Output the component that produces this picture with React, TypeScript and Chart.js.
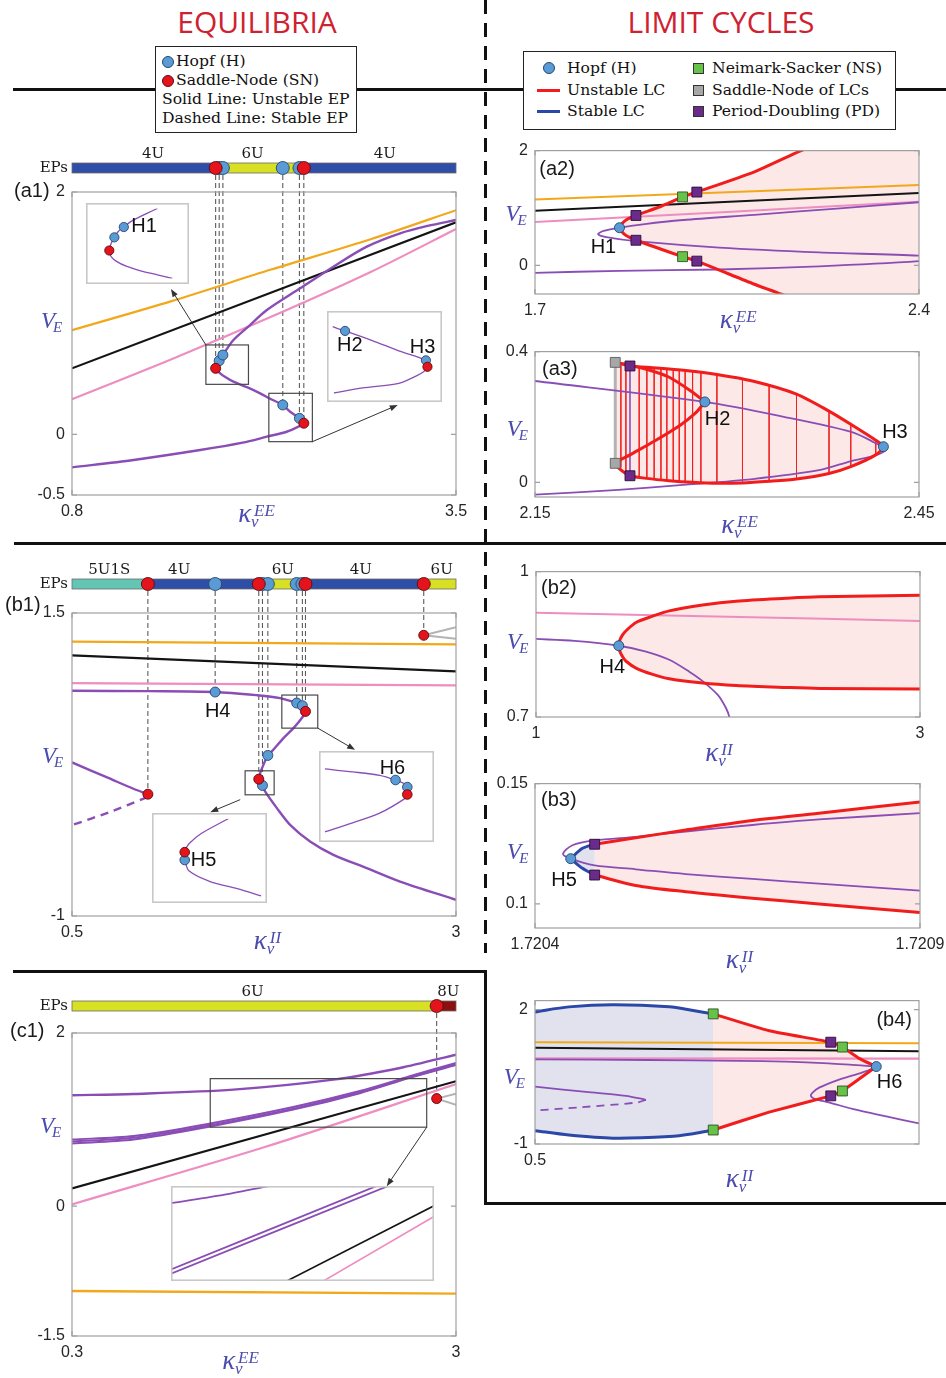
import { useEffect, useRef } from 'react';
import { Chart, registerables } from 'chart.js';

Chart.register(...registerables);

/* ---------------- colours ---------------- */
const ORANGE = '#f1a81a';
const BLACK = '#141414';
const PINK = '#ee8dc0';
const PURPLE = '#8a4db6';
const LC_RED = '#f11d1d';
const LC_BLUE = '#2b47a7';
const FILL_PINK = '#fbe8e7';
const FILL_BLUE = '#e2e2ef';
const HOPF_BLUE = '#5b9bd5';
const SN_RED = '#e5141c';
const NS_GREEN = '#67c24a';
const PD_PURPLE = '#6a2b8b';
const SNLC_GRAY = '#a7a7a7';
const BAR_BLUE = '#2f4ea7';
const BAR_YELLOW = '#d8e024';
const BAR_TEAL = '#63c6b5';
const BAR_DARKRED = '#8d1010';
const AXIS_BLUE = '#4b4cae';
const HEAD_RED = '#cf2230';
const FRAME = '#a0a0a0';
const TICK_TEXT = '#262626';
const BRANCH_GRAY = '#b3b3b3';

/* ---------------- (a1) equilibria, kappa_v^EE ---------------- */
const a1XTicks = [0.8, 3.5];
const a1XLabels = ['0.8', '3.5'];
const a1YTicks = [-0.5, 0, 2];
const a1YLabels = ['-0.5', '0', '2'];
const a1OrangeK = [0.8, 1.5, 2.2, 2.9, 3.5];
const a1OrangeV = [0.86, 1.1, 1.36, 1.61, 1.85];
const a1BlackK = [0.8, 3.5];
const a1BlackV = [0.545, 1.75];
const a1PinkK = [0.8, 1.5, 2.2, 2.9, 3.5];
const a1PinkV = [0.29, 0.62, 0.97, 1.34, 1.695];
const a1PurpleK = [0.8, 1.233, 1.701, 2.0, 2.17, 2.31, 2.392, 2.43, 2.399, 2.334, 2.282, 2.2, 2.123, 2.03, 1.935, 1.875, 1.842, 1.81, 1.835, 1.861, 1.935, 2.05, 2.17, 2.404, 2.638, 2.873, 3.107, 3.3, 3.5];
const a1PurpleV = [-0.272, -0.211, -0.129, -0.068, -0.019, 0.022, 0.064, 0.092, 0.133, 0.187, 0.243, 0.29, 0.339, 0.39, 0.435, 0.475, 0.504, 0.545, 0.608, 0.655, 0.779, 0.9, 1.026, 1.205, 1.384, 1.549, 1.659, 1.72, 1.769];
const a1HopfK = [1.835, 1.861, 2.282, 2.399];
const a1HopfV = [0.608, 0.655, 0.243, 0.133];
const a1SnK = [1.81, 2.43];
const a1SnV = [0.545, 0.092];
const a1BarEdges = [0.8, 1.81, 2.43, 3.5];
const a1BarLabelK = [1.37, 2.07, 3.0];
const a1BarLabels = ['4U', '6U', '4U'];
// magnified window around H1
const a1ZoomH1K = [1.9558, 1.9268, 1.8979, 1.8689, 1.8466, 1.8284, 1.8159, 1.8052, 1.7994, 1.8052, 1.8255, 1.8545, 1.8979, 1.9558, 2.0042];
const a1ZoomH1V = [0.738, 0.7191, 0.699, 0.677, 0.652, 0.631, 0.604, 0.575, 0.543, 0.515, 0.49, 0.47, 0.45, 0.43, 0.413];
const a1ZoomH1HopfK = [1.8159, 1.8466];
const a1ZoomH1HopfV = [0.604, 0.652];
const a1ZoomH1SnK = [1.7994];
const a1ZoomH1SnV = [0.543];
// magnified window around H2, H3
const a1ZoomH23K = [2.184, 2.221, 2.2992, 2.379, 2.4589, 2.4634, 2.4528, 2.4323, 2.379, 2.2726, 2.1883];
const a1ZoomH23V = [0.288, 0.267, 0.2202, 0.1674, 0.1203, 0.0882, 0.0649, 0.0443, 0.0059, -0.0174, -0.0425];
const a1ZoomH23HopfK = [2.221, 2.4589];
const a1ZoomH23HopfV = [0.267, 0.1203];
const a1ZoomH23SnK = [2.4634];
const a1ZoomH23SnV = [0.0882];

/* ---------------- (a2) limit cycles from H1 ---------------- */
const a2XTicks = [1.7, 2.4];
const a2XLabels = ['1.7', '2.4'];
const a2YTicks = [0, 2];
const a2YLabels = ['0', '2'];
const a2OrangeK = [1.7, 2.4];
const a2OrangeV = [1.148, 1.4];
const a2BlackK = [1.7, 2.4];
const a2BlackV = [0.953, 1.26];
const a2PinkK = [1.7, 2.05, 2.4];
const a2PinkV = [0.756, 0.93, 1.109];
const a2PurpleK = [1.7, 1.854, 2.036, 2.218, 2.4, 2.43, 2.4, 2.218, 2.036, 1.884, 1.83, 1.815, 1.825, 1.854, 1.9, 1.97, 2.1, 2.25, 2.4];
const a2PurpleV = [-0.13, -0.096, -0.073, -0.017, 0.073, 0.12, 0.168, 0.224, 0.308, 0.42, 0.49, 0.543, 0.6, 0.655, 0.72, 0.79, 0.88, 0.99, 1.1];
const a2RedUpK = [1.854, 1.858, 1.866, 1.884, 1.93, 1.969, 1.995, 2.1, 2.185, 2.22];
const a2RedUpV = [0.655, 0.72, 0.79, 0.869, 1.03, 1.193, 1.277, 1.63, 2.0, 2.13];
const a2RedLoK = [1.854, 1.858, 1.866, 1.884, 1.93, 1.969, 1.995, 2.1, 2.148, 2.18];
const a2RedLoV = [0.655, 0.59, 0.52, 0.437, 0.28, 0.151, 0.073, -0.33, -0.5, -0.61];
const a2ShadeK = [2.5, 2.5];
const a2ShadeV = [2.2, -0.7];
const a2HopfK = [1.854];
const a2HopfV = [0.655];
const a2NsK = [1.969, 1.969];
const a2NsV = [1.193, 0.151];
const a2PdK = [1.884, 1.884, 1.995, 1.995];
const a2PdV = [0.869, 0.437, 1.277, 0.073];

/* ---------------- (a3) limit cycles between H2 and H3 ---------------- */
const a3XTicks = [2.15, 2.45];
const a3XLabels = ['2.15', '2.45'];
const a3YTicks = [0, 0.4];
const a3YLabels = ['0', '0.4'];
const a3PurpleK = [2.15, 2.2827, 2.346, 2.397, 2.415, 2.424, 2.418, 2.4109, 2.397, 2.372, 2.32, 2.268, 2.2152, 2.15];
const a3PurpleV = [0.31, 0.246, 0.199, 0.154, 0.122, 0.1, 0.085, 0.077, 0.065, 0.037, 0.01, -0.007, -0.023, -0.038];
const a3LcK = [2.2827, 2.2723, 2.2541, 2.235, 2.22, 2.2127, 2.218, 2.2242, 2.245, 2.2679, 2.2921, 2.32, 2.3543, 2.3797, 2.3974, 2.4162, 2.4222, 2.4162, 2.3967, 2.3797, 2.3543, 2.3329, 2.3121, 2.2921, 2.2731, 2.2549, 2.2372, 2.2242, 2.218, 2.2127, 2.2242, 2.2424, 2.2632, 2.2757, 2.2827];
const a3LcV = [0.246, 0.278, 0.323, 0.348, 0.362, 0.367, 0.362, 0.356, 0.35, 0.342, 0.33, 0.31, 0.27, 0.218, 0.176, 0.129, 0.109, 0.084, 0.048, 0.027, 0.01, 0.003, -0.002, -0.003, 0.0, 0.005, 0.012, 0.02, 0.035, 0.058, 0.084, 0.124, 0.174, 0.213, 0.246];
const a3EnvK = [2.2127, 2.2242, 2.245, 2.2679, 2.2921, 2.32, 2.3543, 2.3797, 2.3974, 2.4162, 2.4222, 2.4162, 2.3967, 2.3797, 2.3543, 2.3329, 2.3121, 2.2921, 2.2731, 2.2549, 2.2372, 2.2242, 2.2127];
const a3EnvV = [0.367, 0.356, 0.35, 0.342, 0.33, 0.31, 0.27, 0.218, 0.176, 0.129, 0.109, 0.084, 0.048, 0.027, 0.01, 0.003, -0.002, -0.003, 0.0, 0.005, 0.012, 0.02, 0.058];
const a3HatchK = [2.2171, 2.221, 2.2314, 2.2374, 2.2431, 2.2484, 2.253, 2.258, 2.2627, 2.2673, 2.2731, 2.2796, 2.2921, 2.3121, 2.3329, 2.3543, 2.3797, 2.3967, 2.4162];
const a3HatchTop = [0.363, 0.359, 0.353, 0.351, 0.349, 0.347, 0.346, 0.345, 0.343, 0.342, 0.34, 0.337, 0.33, 0.316, 0.296, 0.27, 0.218, 0.178, 0.129];
const a3HatchBottom = [0.045, 0.03, 0.017, 0.013, 0.01, 0.008, 0.006, 0.005, 0.003, 0.002, 0.0, -0.001, -0.003, -0.002, 0.003, 0.01, 0.027, 0.048, 0.084];
const a3HopfK = [2.2827, 2.4222];
const a3HopfV = [0.246, 0.109];
const a3SnlcK = [2.2127, 2.2127];
const a3SnlcV = [0.367, 0.058];
const a3PdK = [2.2242, 2.2242];
const a3PdV = [0.356, 0.02];

/* ---------------- (b1) equilibria, kappa_v^II ---------------- */
const b1XTicks = [0.5, 3];
const b1XLabels = ['0.5', '3'];
const b1YTicks = [-1, 1.5];
const b1YLabels = ['-1', '1.5'];
const b1OrangeK = [0.5, 3];
const b1OrangeV = [1.263, 1.241];
const b1BlackK = [0.5, 3];
const b1BlackV = [1.15, 1.018];
const b1PinkK = [0.5, 3];
const b1PinkV = [0.922, 0.903];
const b1PurpleK = [0.5, 1.0, 1.432, 1.7, 1.855, 1.963, 2.0, 2.02, 2.0, 1.942, 1.877, 1.801, 1.775, 1.746, 1.725, 1.716, 1.72, 1.74, 1.757, 1.834, 1.92, 2.05, 2.202, 2.419, 2.636, 3.0];
const b1PurpleV = [0.858, 0.855, 0.848, 0.822, 0.798, 0.757, 0.735, 0.688, 0.64, 0.55, 0.468, 0.358, 0.325, 0.247, 0.179, 0.129, 0.1, 0.077, 0.028, -0.11, -0.248, -0.385, -0.495, -0.605, -0.716, -0.867];
const b1LeftK = [0.5, 0.74, 0.9, 0.994];
const b1LeftV = [0.267, 0.137, 0.05, 0.005];
const b1StableK = [0.99, 0.75, 0.5];
const b1StableV = [-0.02, -0.14, -0.25];
const b1BranchAK = [2.79, 3.0];
const b1BranchAV = [1.316, 1.382];
const b1BranchBK = [2.79, 3.0];
const b1BranchBV = [1.316, 1.288];
const b1HopfK = [1.432, 1.74, 1.775, 1.963, 2.0];
const b1HopfV = [0.848, 0.077, 0.325, 0.757, 0.735];
const b1SnK = [0.994, 1.716, 2.02, 2.79];
const b1SnV = [0.005, 0.129, 0.688, 1.316];
const b1BarEdges = [0.5, 0.994, 1.8, 2.02, 2.79, 3.0];
const b1BarLabelK = [0.743, 1.198, 1.873, 2.38, 2.907];
const b1BarLabels = ['5U1S', '4U', '6U', '4U', '6U'];
const b1ZoomH6K = [1.866, 1.9291, 1.9901, 2.026, 2.045, 2.0526, 2.0545, 2.0526, 2.0477, 1.9901, 1.9291, 1.866];
const b1ZoomH6V = [0.781, 0.7709, 0.7588, 0.743, 0.731, 0.7188, 0.706, 0.6934, 0.68, 0.6293, 0.5961, 0.565];
const b1ZoomH6HopfK = [2.026, 2.0526];
const b1ZoomH6HopfV = [0.743, 0.7188];
const b1ZoomH6SnK = [2.0526];
const b1ZoomH6SnV = [0.6934];
const b1ZoomH5K = [1.7557, 1.7064, 1.6845, 1.678, 1.6763, 1.6755, 1.6763, 1.6845, 1.7228, 1.7721, 1.816];
const b1ZoomH5V = [0.198, 0.1606, 0.1357, 0.122, 0.1137, 0.104, 0.0939, 0.066, 0.0396, 0.022, 0.0037];
const b1ZoomH5HopfK = [1.6763];
const b1ZoomH5HopfV = [0.0939];
const b1ZoomH5SnK = [1.6763];
const b1ZoomH5SnV = [0.1137];

/* ---------------- (b2) limit cycles from H4 ---------------- */
const b2XTicks = [1, 3];
const b2XLabels = ['1', '3'];
const b2YTicks = [0.7, 1];
const b2YLabels = ['0.7', '1'];
const b2PinkK = [1, 2, 3];
const b2PinkV = [0.915, 0.907, 0.898];
const b2PurpleK = [1, 1.2, 1.431, 1.573, 1.694, 1.8, 1.8646, 1.9479, 1.99, 2.0069, 2.012];
const b2PurpleV = [0.861, 0.857, 0.847, 0.835, 0.818, 0.793, 0.775, 0.745, 0.718, 0.7, 0.68];
const b2RedK = [1.431, 1.436, 1.45, 1.469, 1.521, 1.608, 1.694, 1.868, 2.042, 2.302, 2.476, 3.0];
const b2RedUpV = [0.847, 0.858, 0.869, 0.878, 0.895, 0.908, 0.919, 0.931, 0.939, 0.945, 0.948, 0.951];
const b2RedLoV = [0.847, 0.836, 0.825, 0.815, 0.801, 0.788, 0.779, 0.77, 0.765, 0.761, 0.759, 0.758];
const b2ShadeK = [3.1, 3.1];
const b2ShadeV = [0.951, 0.758];
const b2HopfK = [1.431];
const b2HopfV = [0.847];

/* ---------------- (b3) limit cycles from H5 ---------------- */
const b3XTicks = [1.7204, 1.7209];
const b3XLabels = ['1.7204', '1.7209'];
const b3YTicks = [0.1, 0.15];
const b3YLabels = ['0.1', '0.15'];
const b3PurpleK = [1.7209, 1.7207688, 1.7206823, 1.7205957, 1.7205308, 1.7204775, 1.7204486, 1.7204364, 1.7204464, 1.7204775, 1.7205308, 1.7205957, 1.7206823, 1.7207688, 1.7209];
const b3PurpleV = [0.1377, 0.1351, 0.1328, 0.1301, 0.1279, 0.1264, 0.1244, 0.1208, 0.1188, 0.116, 0.1144, 0.1124, 0.1104, 0.1084, 0.1055];
const b3BlueK = [1.7204464, 1.7204616, 1.7204775];
const b3BlueUpV = [0.1188, 0.1231, 0.1248];
const b3BlueLoV = [0.1188, 0.1148, 0.112];
const b3RedK = [1.7204775, 1.7205308, 1.7205957, 1.7206823, 1.7207688, 1.7209];
const b3RedUpV = [0.1248, 0.1275, 0.1307, 0.1347, 0.1377, 0.1424];
const b3RedLoV = [0.112, 0.1077, 0.1051, 0.1024, 0.1, 0.0964];
const b3ShadeK = [1.72095, 1.72095];
const b3ShadeV = [0.143, 0.096];
const b3HopfK = [1.7204464];
const b3HopfV = [0.1188];
const b3PdK = [1.7204775, 1.7204775];
const b3PdV = [0.1248, 0.112];

/* ---------------- (b4) limit cycles around H6 ---------------- */
const b4XTicks = [0.5];
const b4XLabels = ['0.5'];
const b4YTicks = [-1, 2];
const b4YLabels = ['-1', '2'];
const b4OrangeK = [0.5, 2.2];
const b4OrangeV = [1.272, 1.25];
const b4BlackK = [0.5, 2.2];
const b4BlackV = [1.15, 1.07];
const b4PinkK = [0.5, 2.2];
const b4PinkV = [0.911, 0.905];
const b4PurpleK = [0.5, 1.0, 1.4, 1.61, 1.8, 1.905, 1.98, 2.011, 1.95, 1.846, 1.758, 1.73, 1.721, 1.74, 1.8, 1.905, 2.05, 2.2];
const b4PurpleV = [0.89, 0.875, 0.855, 0.837, 0.8, 0.765, 0.74, 0.728, 0.6, 0.438, 0.257, 0.15, 0.074, 0.0, -0.07, -0.216, -0.38, -0.542];
const b4LeftK = [0.5, 0.7256, 0.9025, 0.991];
const b4LeftV = [0.279, 0.163, 0.074, -0.013];
const b4StableK = [0.991, 0.95, 0.7, 0.5];
const b4StableV = [-0.013, -0.075, -0.18, -0.253];
const b4BlueK = [0.5, 0.65, 0.844, 1.094, 1.2, 1.289];
const b4BlueUpV = [1.948, 2.06, 2.109, 2.065, 1.98, 1.904];
const b4BlueLoV = [-0.702, -0.8, -0.869, -0.833, -0.77, -0.688];
const b4RedUpK = [1.289, 1.5365, 1.8094, 1.861, 1.9346, 2.011];
const b4RedUpV = [1.904, 1.527, 1.272, 1.163, 0.911, 0.728];
const b4RedLoK = [1.289, 1.5365, 1.8094, 1.861, 2.011];
const b4RedLoV = [-0.688, -0.288, 0.074, 0.183, 0.728];
const b4HopfK = [2.011];
const b4HopfV = [0.728];
const b4NsK = [1.289, 1.289, 1.861, 1.861];
const b4NsV = [1.904, -0.688, 1.163, 0.183];
const b4PdK = [1.8094, 1.8094];
const b4PdV = [1.272, 0.074];

/* ---------------- (c1) equilibria, kappa_v^EE ---------------- */
const c1XTicks = [0.3, 3];
const c1XLabels = ['0.3', '3'];
const c1YTicks = [-1.5, 0, 2];
const c1YLabels = ['-1.5', '0', '2'];
const c1TopK = [0.3, 0.733, 1.435, 2.138, 2.607, 3.0];
const c1TopV = [1.281, 1.296, 1.346, 1.461, 1.596, 1.75];
const c1BundleK = [0.3, 0.733, 1.272, 1.855, 2.324, 2.675, 3.0];
const c1BundleAV = [0.77, 0.81, 0.955, 1.145, 1.33, 1.5, 1.655];
const c1BundleBV = [0.748, 0.79, 0.935, 1.125, 1.313, 1.488, 1.64];
const c1BundleCV = [0.725, 0.77, 0.92, 1.115, 1.305, 1.482, 1.63];
const c1BlackK = [0.3, 3.0];
const c1BlackV = [0.204, 1.443];
const c1PinkK = [0.3, 1.65, 3.0];
const c1PinkV = [0.02, 0.68, 1.41];
const c1OrangeK = [0.3, 3.0];
const c1OrangeV = [-0.98, -1.011];
const c1BranchAK = [2.864, 3.0];
const c1BranchAV = [1.242, 1.3];
const c1BranchBK = [2.864, 3.0];
const c1BranchBV = [1.242, 1.17];
const c1SnK = [2.864];
const c1SnV = [1.242];
const c1BarEdges = [0.3, 2.864, 3.0];
const c1BarLabelK = [1.569, 2.946];
const c1BarLabels = ['6U', '8U'];
const c1ZoomTopK = [1.272, 1.6, 1.9];
const c1ZoomTopV = [1.371, 1.425, 1.485];
const c1ZoomAK = [1.272, 2.452, 2.6];
const c1ZoomAV = [0.98, 1.469, 1.53];
const c1ZoomBK = [1.272, 2.519, 2.65];
const c1ZoomBV = [0.955, 1.469, 1.52];
const c1ZoomBlackK = [1.9, 2.794];
const c1ZoomBlackV = [0.89, 1.356];
const c1ZoomPinkK = [2.1, 2.794];
const c1ZoomPinkV = [0.88, 1.293];

/* ---------------- helpers ---------------- */
type XY = { x: number; y: number | null };
const pts = (k: number[], v: number[]): XY[] => k.map((x, i) => ({ x, y: v[i] }));
const rev = (a: number[]) => [...a].reverse();
const hatch = (k: number[], top: number[], bot: number[]): XY[] =>
  k.flatMap((x, i) => [{ x, y: top[i] }, { x, y: bot[i] }, { x, y: null }]);

const line = (data: XY[], color: string, width = 2, extra: any = {}) => ({
  data, borderColor: color, borderWidth: width, pointRadius: 0, fill: false, tension: 0.3,
  borderJoinStyle: 'round', ...extra,
});
const area = (data: XY[], color: string) => ({
  data, borderColor: 'rgba(0,0,0,0)', borderWidth: 1, backgroundColor: color, pointRadius: 0, fill: 'shape', tension: 0,
});
const MARK: Record<string, { style: string; r: number; fill: string; edge: string }> = {
  hopf: { style: 'circle', r: 5, fill: HOPF_BLUE, edge: '#23476e' },
  sn: { style: 'circle', r: 5, fill: SN_RED, edge: '#5c0b0b' },
  ns: { style: 'rect', r: 7, fill: NS_GREEN, edge: '#2f4f25' },
  pd: { style: 'rect', r: 7, fill: PD_PURPLE, edge: '#2a0f38' },
  snlc: { style: 'rect', r: 7, fill: SNLC_GRAY, edge: '#5c5c5c' },
};
const marks = (k: number[], v: number[], kind: string, r?: number) => {
  const m = MARK[kind];
  return {
    data: pts(k, v), showLine: false, pointStyle: m.style, pointRadius: r ?? m.r,
    pointBackgroundColor: m.fill, pointBorderColor: m.edge, pointBorderWidth: 0.9,
    backgroundColor: m.fill, borderColor: m.edge,
  };
};

type Txt = { k: number; v: number; s: string };
type Inset = { box: number[]; rect: number[]; arrow: number[]; datasets: any[]; texts: Txt[] };
type Bar = {
  edges: number[]; colors: string[]; labelK: number[]; labels: string[]; dy: number; labelDy: number;
  hopfK: number[]; snK: number[]; linkK: number[]; linkV: number[];
};
type Panel = {
  id: string; area: number[]; pad: number[];
  x: number[]; y: number[]; xTicks: number[]; xLabels: string[]; yTicks: number[]; yLabels: string[];
  tag: { s: string; dx: number; dy: number; right?: boolean };
  vTitle: number[]; kTitle: number[]; kSup: string;
  datasets: any[]; texts: Txt[]; bar?: Bar; insets: Inset[];
};

/* ---------------- panels ---------------- */
const PANELS: Panel[] = [
  {
    id: 'a1', area: [72, 192, 456, 495], pad: [72, 60, 24, 44],
    x: [0.8, 3.5], y: [-0.5, 2], xTicks: a1XTicks, xLabels: a1XLabels, yTicks: a1YTicks, yLabels: a1YLabels,
    tag: { s: '(a1)', dx: -58, dy: -1 }, vTitle: [-20.5, 130], kTitle: [184, 324], kSup: 'EE',
    datasets: [
      line(pts(a1OrangeK, a1OrangeV), ORANGE, 2.2),
      line(pts(a1BlackK, a1BlackV), BLACK, 2.2, { tension: 0 }),
      line(pts(a1PinkK, a1PinkV), PINK, 2.2),
      line(pts(a1PurpleK, a1PurpleV), PURPLE, 2.4),
      marks(a1HopfK, a1HopfV, 'hopf'),
      marks(a1SnK, a1SnV, 'sn'),
    ],
    texts: [],
    bar: {
      edges: a1BarEdges, colors: [BAR_BLUE, BAR_YELLOW, BAR_BLUE], labelK: a1BarLabelK, labels: a1BarLabels,
      dy: -29, labelDy: -9, hopfK: a1HopfK, snK: a1SnK,
      linkK: [...a1HopfK, ...a1SnK], linkV: [...a1HopfV, ...a1SnV],
    },
    insets: [
      {
        box: [0.9005, 1.6262, 1.238, 1.907], rect: [1.7415, 2.0407, 0.413, 0.738], arrow: [1.7415, 0.738, 1.4956, 1.2],
        datasets: [
          line(pts(a1ZoomH1K, a1ZoomH1V), PURPLE, 1.3),
          marks(a1ZoomH1HopfK, a1ZoomH1HopfV, 'hopf', 4.6),
          marks(a1ZoomH1SnK, a1ZoomH1SnV, 'sn', 4.6),
        ],
        texts: [{ k: 1.9124, v: 0.656, s: 'H1' }],
      },
      {
        box: [2.5916, 3.3996, 0.27, 1.018], rect: [2.184, 2.49, -0.06, 0.339], arrow: [2.49, -0.06, 3.0904, 0.2426],
        datasets: [
          line(pts(a1ZoomH23K, a1ZoomH23V), PURPLE, 1.3),
          marks(a1ZoomH23HopfK, a1ZoomH23HopfV, 'hopf', 4.6),
          marks(a1ZoomH23SnK, a1ZoomH23SnV, 'sn', 4.6),
        ],
        texts: [{ k: 2.2348, v: 0.193, s: 'H2' }, { k: 2.449, v: 0.184, s: 'H3' }],
      },
    ],
  },
  {
    id: 'a2', area: [535, 146, 919, 294], pad: [45, 12, 26, 44],
    x: [1.7, 2.4], y: [-0.5, 2], xTicks: a2XTicks, xLabels: a2XLabels, yTicks: a2YTicks, yLabels: a2YLabels,
    tag: { s: '(a2)', dx: 4.3, dy: 19 }, vTitle: [-19, 64.8], kTitle: [202.7, 171.5], kSup: 'EE',
    datasets: [
      area(pts([...a2RedUpK, ...a2ShadeK, ...rev(a2RedLoK)], [...a2RedUpV, ...a2ShadeV, ...rev(a2RedLoV)]), FILL_PINK),
      line(pts(a2OrangeK, a2OrangeV), ORANGE, 2, { tension: 0 }),
      line(pts(a2BlackK, a2BlackV), BLACK, 2, { tension: 0 }),
      line(pts(a2PinkK, a2PinkV), PINK, 2),
      line(pts(a2PurpleK, a2PurpleV), PURPLE, 1.8),
      line(pts(a2RedUpK, a2RedUpV), LC_RED, 3, { tension: 0.2 }),
      line(pts(a2RedLoK, a2RedLoV), LC_RED, 3, { tension: 0.2 }),
      marks(a2HopfK, a2HopfV, 'hopf'),
      marks(a2NsK, a2NsV, 'ns'),
      marks(a2PdK, a2PdV, 'pd'),
    ],
    texts: [{ k: 1.8248, v: 0.308, s: 'H1' }],
    insets: [],
  },
  {
    id: 'a3', area: [535, 347, 919, 497], pad: [45, 12, 26, 44],
    x: [2.15, 2.45], y: [-0.045, 0.4], xTicks: a3XTicks, xLabels: a3XLabels, yTicks: a3YTicks, yLabels: a3YLabels,
    tag: { s: '(a3)', dx: 7, dy: 18 }, vTitle: [-17.7, 78.8], kTitle: [204, 176], kSup: 'EE',
    datasets: [
      area(pts(a3EnvK, a3EnvV), FILL_PINK),
      line(hatch(a3HatchK, a3HatchTop, a3HatchBottom), 'rgba(240,30,30,0.85)', 1, { tension: 0 }),
      line(pts(a3SnlcK, a3SnlcV), BRANCH_GRAY, 3, { tension: 0 }),
      line(pts(a3PdK, a3PdV), PURPLE, 1.6, { tension: 0 }),
      line(pts(a3PurpleK, a3PurpleV), PURPLE, 1.8),
      line(pts(a3LcK, a3LcV), LC_RED, 3, { tension: 0.25 }),
      marks(a3HopfK, a3HopfV, 'hopf'),
      marks(a3SnlcK, a3SnlcV, 'snlc'),
      marks(a3PdK, a3PdV, 'pd'),
    ],
    texts: [{ k: 2.2926, v: 0.193, s: 'H2' }, { k: 2.4312, v: 0.153, s: 'H3' }],
    insets: [],
  },
  {
    id: 'b1', area: [72, 613, 456, 916], pad: [72, 60, 24, 50],
    x: [0.5, 3], y: [-1, 1.5], xTicks: b1XTicks, xLabels: b1XLabels, yTicks: b1YTicks, yLabels: b1YLabels,
    tag: { s: '(b1)', dx: -67, dy: -7.5 }, vTitle: [-19.5, 144], kTitle: [195, 330], kSup: 'II',
    datasets: [
      line(pts(b1OrangeK, b1OrangeV), ORANGE, 2.2, { tension: 0 }),
      line(pts(b1BlackK, b1BlackV), BLACK, 2.2, { tension: 0 }),
      line(pts(b1PinkK, b1PinkV), PINK, 2.2, { tension: 0 }),
      line(pts(b1BranchAK, b1BranchAV), BRANCH_GRAY, 2, { tension: 0 }),
      line(pts(b1BranchBK, b1BranchBV), BRANCH_GRAY, 2, { tension: 0 }),
      line(pts(b1PurpleK, b1PurpleV), PURPLE, 2.4),
      line(pts(b1LeftK, b1LeftV), PURPLE, 2.4),
      line(pts(b1StableK, b1StableV), PURPLE, 2.4, { borderDash: [8, 6] }),
      marks(b1HopfK, b1HopfV, 'hopf'),
      marks(b1SnK, b1SnV, 'sn'),
    ],
    texts: [{ k: 1.4485, v: 0.688, s: 'H4' }],
    bar: {
      edges: b1BarEdges, colors: [BAR_TEAL, BAR_BLUE, BAR_YELLOW, BAR_BLUE, BAR_YELLOW],
      labelK: b1BarLabelK, labels: b1BarLabels, dy: -34, labelDy: -9, hopfK: b1HopfK, snK: b1SnK,
      linkK: [...b1HopfK, ...b1SnK], linkV: [...b1HopfV, ...b1SnV],
    },
    insets: [
      {
        box: [2.109, 2.857, -0.385, 0.363], rect: [1.866, 2.1, 0.55, 0.823], arrow: [2.1, 0.55, 2.343, 0.371],
        datasets: [
          line(pts(b1ZoomH6K, b1ZoomH6V), PURPLE, 1.3),
          marks(b1ZoomH6HopfK, b1ZoomH6HopfV, 'hopf', 4.8),
          marks(b1ZoomH6SnK, b1ZoomH6SnV, 'sn', 4.8),
        ],
        texts: [{ k: 2.019, v: 0.783, s: 'H6' }],
      },
      {
        box: [1.02, 1.7685, -0.895, -0.152], rect: [1.627, 1.816, 0.0, 0.198], arrow: [1.595, -0.04, 1.4, -0.143],
        datasets: [
          line(pts(b1ZoomH5K, b1ZoomH5V), PURPLE, 1.3),
          marks(b1ZoomH5HopfK, b1ZoomH5HopfV, 'hopf', 4.8),
          marks(b1ZoomH5SnK, b1ZoomH5SnV, 'sn', 4.8),
        ],
        texts: [{ k: 1.7105, v: 0.0917, s: 'H5' }],
      },
    ],
  },
  {
    id: 'b2', area: [536, 567, 920, 717], pad: [46, 12, 26, 52],
    x: [1, 3], y: [0.7, 1], xTicks: b2XTicks, xLabels: b2XLabels, yTicks: b2YTicks, yLabels: b2YLabels,
    tag: { s: '(b2)', dx: 5, dy: 16.8 }, vTitle: [-18.3, 71.8], kTitle: [182.5, 184], kSup: 'II',
    datasets: [
      area(pts([...b2RedK, ...b2ShadeK, ...rev(b2RedK)], [...b2RedUpV, ...b2ShadeV, ...rev(b2RedLoV)]), FILL_PINK),
      line(pts(b2PinkK, b2PinkV), PINK, 2),
      line(pts(b2PurpleK, b2PurpleV), PURPLE, 1.8),
      line(pts(b2RedK, b2RedUpV), LC_RED, 3),
      line(pts(b2RedK, b2RedLoV), LC_RED, 3),
      marks(b2HopfK, b2HopfV, 'hopf'),
    ],
    texts: [{ k: 1.3974, v: 0.8014, s: 'H4' }],
    insets: [],
  },
  {
    id: 'b3', area: [535, 779, 920, 928], pad: [45, 12, 32, 50],
    x: [1.7204, 1.7209], y: [0.09, 0.15], xTicks: b3XTicks, xLabels: b3XLabels, yTicks: b3YTicks, yLabels: b3YLabels,
    tag: { s: '(b3)', dx: 6, dy: 17.3 }, vTitle: [-17.3, 69], kTitle: [204, 179], kSup: 'II',
    datasets: [
      area(pts([...b3RedK, ...b3ShadeK, ...rev(b3RedK)], [...b3RedUpV, ...b3ShadeV, ...rev(b3RedLoV)]), FILL_PINK),
      area(pts([...b3BlueK, ...rev(b3BlueK)], [...b3BlueUpV, ...rev(b3BlueLoV)]), FILL_BLUE),
      line(pts(b3PurpleK, b3PurpleV), PURPLE, 1.8),
      line(pts(b3RedK, b3RedUpV), LC_RED, 3),
      line(pts(b3RedK, b3RedLoV), LC_RED, 3),
      line(pts(b3BlueK, b3BlueUpV), LC_BLUE, 3),
      line(pts(b3BlueK, b3BlueLoV), LC_BLUE, 3),
      marks(b3HopfK, b3HopfV, 'hopf'),
      marks(b3PdK, b3PdV, 'pd'),
    ],
    texts: [{ k: 1.7204377, v: 0.1097, s: 'H5' }],
    insets: [],
  },
  {
    id: 'b4', area: [535, 996, 919, 1144], pad: [45, 12, 26, 52],
    x: [0.5, 2.2], y: [-1, 2.2], xTicks: b4XTicks, xLabels: b4XLabels, yTicks: b4YTicks, yLabels: b4YLabels,
    tag: { s: '(b4)', dx: -7, dy: 19.5, right: true }, vTitle: [-20.7, 77.8], kTitle: [204, 181], kSup: 'II',
    datasets: [
      area(pts([...b4BlueK, ...rev(b4BlueK)], [...b4BlueUpV, ...rev(b4BlueLoV)]), FILL_BLUE),
      area(pts([...b4RedUpK, ...rev(b4RedLoK)], [...b4RedUpV, ...rev(b4RedLoV)]), FILL_PINK),
      line(pts(b4OrangeK, b4OrangeV), ORANGE, 2, { tension: 0 }),
      line(pts(b4BlackK, b4BlackV), BLACK, 2, { tension: 0 }),
      line(pts(b4PinkK, b4PinkV), PINK, 2.4, { tension: 0 }),
      line(pts(b4PurpleK, b4PurpleV), PURPLE, 1.8),
      line(pts(b4LeftK, b4LeftV), PURPLE, 1.8),
      line(pts(b4StableK, b4StableV), PURPLE, 1.8, { borderDash: [8, 6] }),
      line(pts(b4BlueK, b4BlueUpV), LC_BLUE, 3),
      line(pts(b4BlueK, b4BlueLoV), LC_BLUE, 3),
      line(pts(b4RedUpK, b4RedUpV), LC_RED, 3, { tension: 0.15 }),
      line(pts(b4RedLoK, b4RedLoV), LC_RED, 3, { tension: 0.1 }),
      marks(b4HopfK, b4HopfV, 'hopf'),
      marks(b4NsK, b4NsV, 'ns'),
      marks(b4PdK, b4PdV, 'pd'),
    ],
    texts: [{ k: 2.07, v: 0.366, s: 'H6' }],
    insets: [],
  },
  {
    id: 'c1', area: [72, 1033, 456, 1336], pad: [72, 60, 24, 42],
    x: [0.3, 3], y: [-1.5, 2], xTicks: c1XTicks, xLabels: c1XLabels, yTicks: c1YTicks, yLabels: c1YLabels,
    tag: { s: '(c1)', dx: -62, dy: -1.7 }, vTitle: [-21.5, 94], kTitle: [168, 330], kSup: 'EE',
    datasets: [
      line(pts(c1OrangeK, c1OrangeV), ORANGE, 2.4, { tension: 0 }),
      line(pts(c1BlackK, c1BlackV), BLACK, 2.2, { tension: 0 }),
      line(pts(c1PinkK, c1PinkV), PINK, 2.2),
      line(pts(c1BranchAK, c1BranchAV), BRANCH_GRAY, 2, { tension: 0 }),
      line(pts(c1BranchBK, c1BranchBV), BRANCH_GRAY, 2, { tension: 0 }),
      line(pts(c1TopK, c1TopV), PURPLE, 2.4),
      line(pts(c1BundleK, c1BundleAV), PURPLE, 2),
      line(pts(c1BundleK, c1BundleBV), PURPLE, 2),
      line(pts(c1BundleK, c1BundleCV), PURPLE, 2),
      marks(c1SnK, c1SnV, 'sn'),
    ],
    texts: [],
    bar: {
      edges: c1BarEdges, colors: [BAR_YELLOW, BAR_DARKRED], labelK: c1BarLabelK, labels: c1BarLabels,
      dy: -32, labelDy: -9, hopfK: [], snK: c1SnK, linkK: c1SnK, linkV: c1SnV,
    },
    insets: [
      {
        box: [0.9956, 2.8475, -0.865, 0.238], rect: [1.272, 2.794, 0.912, 1.473], arrow: [2.794, 0.912, 2.513, 0.231],
        datasets: [
          line(pts(c1ZoomBlackK, c1ZoomBlackV), BLACK, 1.6, { tension: 0 }),
          line(pts(c1ZoomPinkK, c1ZoomPinkV), PINK, 1.6, { tension: 0 }),
          line(pts(c1ZoomTopK, c1ZoomTopV), PURPLE, 1.8),
          line(pts(c1ZoomAK, c1ZoomAV), PURPLE, 1.8),
          line(pts(c1ZoomBK, c1ZoomBV), PURPLE, 1.8),
        ],
        texts: [],
      },
    ],
  },
];

/* ---------------- canvas drawing helpers ---------------- */
const BAR_H = 10;

function drawArrow(ctx: CanvasRenderingContext2D, x0: number, y0: number, x1: number, y1: number) {
  const a = Math.atan2(y1 - y0, x1 - x0);
  const L = 8;
  const W = 3;
  ctx.beginPath();
  ctx.moveTo(x0, y0);
  ctx.lineTo(x1 - Math.cos(a) * 4, y1 - Math.sin(a) * 4);
  ctx.stroke();
  ctx.beginPath();
  ctx.moveTo(x1, y1);
  ctx.lineTo(x1 - L * Math.cos(a) + W * Math.sin(a), y1 - L * Math.sin(a) - W * Math.cos(a));
  ctx.lineTo(x1 - L * Math.cos(a) - W * Math.sin(a), y1 - L * Math.sin(a) + W * Math.cos(a));
  ctx.closePath();
  ctx.fill();
}

function drawVE(ctx: CanvasRenderingContext2D, cx: number, cy: number) {
  const big = 'italic 23px "Liberation Serif"';
  const small = 'italic 15px "Liberation Serif"';
  ctx.fillStyle = AXIS_BLUE;
  ctx.textAlign = 'left';
  ctx.textBaseline = 'alphabetic';
  ctx.font = big;
  const w1 = ctx.measureText('V').width;
  ctx.font = small;
  const w2 = ctx.measureText('E').width;
  const x0 = cx - (w1 + w2 - 2) / 2;
  const base = cy + 6;
  ctx.font = big;
  ctx.fillText('V', x0, base);
  ctx.font = small;
  ctx.fillText('E', x0 + w1 - 2, base + 4);
}

function drawKappa(ctx: CanvasRenderingContext2D, cx: number, cy: number, sup: string) {
  const big = 'italic 27px "Liberation Serif"';
  const small = 'italic 17px "Liberation Serif"';
  ctx.fillStyle = AXIS_BLUE;
  ctx.textAlign = 'left';
  ctx.textBaseline = 'alphabetic';
  ctx.font = big;
  const w1 = ctx.measureText('\u03ba').width;
  ctx.font = small;
  const w2 = Math.max(ctx.measureText('v').width, ctx.measureText(sup).width + 2);
  const x0 = cx - (w1 + w2) / 2;
  const base = cy + 5.5;
  ctx.font = big;
  ctx.fillText('\u03ba', x0, base);
  ctx.font = small;
  ctx.fillText('v', x0 + w1, base + 5);
  ctx.fillText(sup, x0 + w1 + 3, base - 6);
}

function drawDot(ctx: CanvasRenderingContext2D, x: number, y: number, r: number, fill: string, edge: string) {
  ctx.beginPath();
  ctx.arc(x, y, r, 0, Math.PI * 2);
  ctx.fillStyle = fill;
  ctx.fill();
  ctx.lineWidth = 0.9;
  ctx.strokeStyle = edge;
  ctx.stroke();
}

function drawLabels(ctx: CanvasRenderingContext2D, chart: any, texts: Txt[], size: number) {
  const { x, y } = chart.scales;
  ctx.font = `${size}px "Liberation Sans"`;
  ctx.fillStyle = '#111';
  ctx.textAlign = 'center';
  ctx.textBaseline = 'middle';
  for (const t of texts) ctx.fillText(t.s, x.getPixelForValue(t.k), y.getPixelForValue(t.v));
}

function panelDecor(p: Panel) {
  return {
    id: 'panelDecor',
    beforeDatasetsDraw(chart: any) {
      const bar = p.bar;
      if (!bar) return;
      const { ctx, chartArea: ca, scales } = chart;
      const yStart = ca.top + bar.dy + BAR_H + 2;
      ctx.save();
      ctx.strokeStyle = '#5b5b5b';
      ctx.lineWidth = 1.1;
      ctx.setLineDash([5, 3]);
      bar.linkK.forEach((k, i) => {
        const px = scales.x.getPixelForValue(k);
        ctx.beginPath();
        ctx.moveTo(px, yStart);
        ctx.lineTo(px, scales.y.getPixelForValue(bar.linkV[i]));
        ctx.stroke();
      });
      ctx.restore();
    },
    afterDatasetsDraw(chart: any) {
      const { ctx, chartArea: ca, scales } = chart;
      const { x, y } = scales;
      ctx.save();
      ctx.strokeStyle = FRAME;
      ctx.lineWidth = 1.2;
      ctx.strokeRect(ca.left, ca.top, ca.right - ca.left, ca.bottom - ca.top);
      ctx.beginPath();
      for (const t of p.xTicks) {
        const px = x.getPixelForValue(t);
        ctx.moveTo(px, ca.bottom);
        ctx.lineTo(px, ca.bottom - 5);
        ctx.moveTo(px, ca.top);
        ctx.lineTo(px, ca.top + 5);
      }
      for (const t of p.yTicks) {
        const py = y.getPixelForValue(t);
        ctx.moveTo(ca.left, py);
        ctx.lineTo(ca.left + 5, py);
        ctx.moveTo(ca.right, py);
        ctx.lineTo(ca.right - 5, py);
      }
      ctx.stroke();
      for (const ins of p.insets) {
        const [k0, k1, v0, v1] = ins.rect;
        const rx0 = x.getPixelForValue(k0);
        const rx1 = x.getPixelForValue(k1);
        const ry0 = y.getPixelForValue(v1);
        const ry1 = y.getPixelForValue(v0);
        ctx.strokeStyle = '#4a4a4a';
        ctx.lineWidth = 1.2;
        ctx.strokeRect(rx0, ry0, rx1 - rx0, ry1 - ry0);
        const [ak0, av0, ak1, av1] = ins.arrow;
        ctx.strokeStyle = '#333';
        ctx.fillStyle = '#333';
        ctx.lineWidth = 1;
        drawArrow(ctx, x.getPixelForValue(ak0), y.getPixelForValue(av0), x.getPixelForValue(ak1), y.getPixelForValue(av1));
      }
      ctx.restore();
    },
    afterDraw(chart: any) {
      const { ctx, chartArea: ca, scales } = chart;
      const { x } = scales;
      ctx.save();
      const bar = p.bar;
      if (bar) {
        const top = ca.top + bar.dy;
        const mid = top + BAR_H / 2;
        for (let i = 0; i < bar.colors.length; i++) {
          const x0 = x.getPixelForValue(bar.edges[i]);
          const x1 = x.getPixelForValue(bar.edges[i + 1]);
          ctx.fillStyle = bar.colors[i];
          ctx.fillRect(x0, top, x1 - x0, BAR_H);
        }
        ctx.strokeStyle = '#6a6a6a';
        ctx.lineWidth = 0.8;
        ctx.strokeRect(ca.left, top, ca.right - ca.left, BAR_H);
        ctx.font = '15px "DejaVu Serif"';
        ctx.fillStyle = '#1a1a1a';
        ctx.textAlign = 'center';
        ctx.textBaseline = 'middle';
        bar.labelK.forEach((k, i) => ctx.fillText(bar.labels[i], x.getPixelForValue(k), top + bar.labelDy));
        ctx.textAlign = 'right';
        ctx.fillText('EPs', ca.left - 4, mid);
        for (const k of bar.hopfK) drawDot(ctx, x.getPixelForValue(k), mid, 6.5, HOPF_BLUE, '#23476e');
        for (const k of bar.snK) drawDot(ctx, x.getPixelForValue(k), mid, 6.5, SN_RED, '#5c0b0b');
      }
      drawLabels(ctx, chart, p.texts, 20);
      ctx.font = '20px "Liberation Sans"';
      ctx.fillStyle = '#1a1a1a';
      ctx.textBaseline = 'middle';
      ctx.textAlign = p.tag.right ? 'right' : 'left';
      ctx.fillText(p.tag.s, (p.tag.right ? ca.right : ca.left) + p.tag.dx, ca.top + p.tag.dy);
      drawVE(ctx, ca.left + p.vTitle[0], ca.top + p.vTitle[1]);
      drawKappa(ctx, ca.left + p.kTitle[0], ca.top + p.kTitle[1], p.kSup);
      ctx.restore();
    },
  };
}

function insetDecor(ins: Inset) {
  return {
    id: 'insetDecor',
    beforeDraw(chart: any) {
      const { ctx } = chart;
      ctx.save();
      ctx.fillStyle = '#ffffff';
      ctx.fillRect(0, 0, chart.width, chart.height);
      ctx.restore();
    },
    afterDraw(chart: any) {
      const { ctx } = chart;
      ctx.save();
      ctx.strokeStyle = '#c8c8c8';
      ctx.lineWidth = 1.6;
      ctx.strokeRect(0.8, 0.8, chart.width - 1.6, chart.height - 1.6);
      drawLabels(ctx, chart, ins.texts, 20);
      ctx.restore();
    },
  };
}

function axisOpts(range: number[], ticks: number[], labels: string[], fit: (s: any) => void) {
  return {
    type: 'linear',
    min: range[0],
    max: range[1],
    afterBuildTicks: (s: any) => {
      s.ticks = ticks.map((value) => ({ value }));
    },
    afterFit: fit,
    ticks: {
      callback: (_v: any, i: number) => labels[i],
      font: { family: 'Liberation Sans', size: 16 },
      color: TICK_TEXT,
      padding: 7,
      maxRotation: 0,
      minRotation: 0,
      autoSkip: false,
    },
    grid: { display: false, drawTicks: false },
    border: { display: false },
  };
}

function mainConfig(p: Panel): any {
  const n = p.datasets.length;
  return {
    type: 'line',
    data: { datasets: p.datasets.map((d, i) => ({ ...d, order: n - i })) },
    options: {
      responsive: false,
      animation: false,
      events: [],
      layout: { padding: { left: 0, top: p.pad[1], right: p.pad[2], bottom: 0 } },
      elements: { line: { capBezierPoints: false } },
      plugins: {
        legend: { display: false },
        tooltip: { enabled: false },
        filler: { drawTime: 'beforeDatasetsDraw' },
      },
      scales: {
        x: axisOpts(p.x, p.xTicks, p.xLabels, (s: any) => {
          s.height = p.pad[3];
        }),
        y: axisOpts(p.y, p.yTicks, p.yLabels, (s: any) => {
          s.width = p.pad[0];
        }),
      },
    },
    plugins: [panelDecor(p)],
  };
}

function insetConfig(ins: Inset): any {
  const n = ins.datasets.length;
  return {
    type: 'line',
    data: { datasets: ins.datasets.map((d, i) => ({ ...d, order: n - i })) },
    options: {
      responsive: false,
      animation: false,
      events: [],
      layout: { padding: 0 },
      elements: { line: { capBezierPoints: false } },
      plugins: { legend: { display: false }, tooltip: { enabled: false } },
      scales: {
        x: { type: 'linear', display: false, min: ins.rect[0], max: ins.rect[1] },
        y: { type: 'linear', display: false, min: ins.rect[2], max: ins.rect[3] },
      },
    },
    plugins: [insetDecor(ins)],
  };
}

/* ---------------- components ---------------- */
function PanelView({ p }: { p: Panel }) {
  const mainRef = useRef<HTMLCanvasElement>(null);
  const insetRefs = useRef<(HTMLCanvasElement | null)[]>([]);
  const offX = p.area[0] - p.pad[0];
  const offY = p.area[1] - p.pad[1];
  const w = p.area[2] - p.area[0] + p.pad[0] + p.pad[2];
  const h = p.area[3] - p.area[1] + p.pad[1] + p.pad[3];

  useEffect(() => {
    const canvas = mainRef.current;
    if (!canvas) return;
    const main = new Chart(canvas, mainConfig(p));
    const charts: Chart[] = [main];
    p.insets.forEach((ins, i) => {
      const el = insetRefs.current[i];
      if (!el) return;
      const xs: any = main.scales.x;
      const ys: any = main.scales.y;
      const x0 = xs.getPixelForValue(ins.box[0]);
      const x1 = xs.getPixelForValue(ins.box[1]);
      const yTop = ys.getPixelForValue(ins.box[3]);
      const yBot = ys.getPixelForValue(ins.box[2]);
      const iw = Math.round(x1 - x0);
      const ih = Math.round(yBot - yTop);
      el.width = iw;
      el.height = ih;
      el.style.left = `${Math.round(offX + x0)}px`;
      el.style.top = `${Math.round(offY + yTop)}px`;
      el.style.width = `${iw}px`;
      el.style.height = `${ih}px`;
      el.style.display = 'block';
      charts.push(new Chart(el, insetConfig(ins)));
    });
    return () => {
      charts.forEach((c) => c.destroy());
    };
  }, [p]);

  return (
    <>
      <canvas
        ref={mainRef}
        width={w}
        height={h}
        style={{ position: 'absolute', left: offX, top: offY, width: w, height: h }}
      />
      {p.insets.map((_, i) => (
        <canvas
          key={i}
          ref={(el) => {
            insetRefs.current[i] = el;
          }}
          style={{ position: 'absolute', display: 'none' }}
        />
      ))}
    </>
  );
}

const rule = (left: number, top: number, width: number, height: number): any => ({
  position: 'absolute', left, top, width, height, background: '#111',
});
const serif: any = {
  position: 'absolute', fontFamily: '"DejaVu Serif", serif', fontSize: 15.6, lineHeight: '19px',
  color: '#111', whiteSpace: 'nowrap',
};
const headline = (left: number): any => ({
  position: 'absolute', left, top: 4, width: 200, textAlign: 'center', fontFamily: '"Open Sans", sans-serif',
  fontSize: 30, lineHeight: '36px', color: HEAD_RED,
});
const dot = (cx: number, cy: number, color: string, edge: string): any => ({
  position: 'absolute', left: cx - 6, top: cy - 6, width: 12, height: 12, borderRadius: '50%',
  background: color, border: `1px solid ${edge}`, boxSizing: 'border-box',
});
const square = (cx: number, cy: number, color: string): any => ({
  position: 'absolute', left: cx - 5.5, top: cy - 5.5, width: 11, height: 11,
  background: color, border: '1px solid #333', boxSizing: 'border-box',
});
const stroke = (cy: number, color: string): any => ({
  position: 'absolute', left: 537, top: cy - 1.5, width: 23, height: 3, background: color,
});

export default function App() {
  return (
    <div
      style={{
        position: 'absolute', left: 0, top: 0, width: 946, height: 1378, background: '#fff', overflow: 'hidden',
      }}
    >
      <div style={rule(13, 88, 933, 3)} />
      <div style={rule(14, 542, 932, 3)} />
      <div style={rule(13, 970, 474, 3)} />
      <div style={rule(484, 970, 3, 235)} />
      <div style={rule(484, 1202, 462, 3)} />
      <div
        style={{
          position: 'absolute', left: 484, top: 0, width: 3, height: 953,
          background: 'repeating-linear-gradient(to bottom, #111 0px, #111 14px, transparent 14px, transparent 23px)',
        }}
      />

      <div style={headline(157)}>EQUILIBRIA</div>
      <div style={headline(621)}>LIMIT CYCLES</div>

      <div
        style={{
          position: 'absolute', left: 155, top: 46, width: 202, height: 87, border: '1.5px solid #222',
          background: '#fff', boxSizing: 'border-box',
        }}
      />
      <div style={dot(168, 61.7, HOPF_BLUE, '#23476e')} />
      <div style={{ ...serif, left: 176, top: 52.2 }}>Hopf (H)</div>
      <div style={dot(168, 80.7, SN_RED, '#5c0b0b')} />
      <div style={{ ...serif, left: 176, top: 71.2 }}>Saddle-Node (SN)</div>
      <div style={{ ...serif, left: 162, top: 90.2 }}>Solid Line: Unstable EP</div>
      <div style={{ ...serif, left: 162, top: 108.8 }}>Dashed Line: Stable EP</div>

      <div
        style={{
          position: 'absolute', left: 523, top: 51, width: 373, height: 79, border: '1.5px solid #222',
          background: '#fff', boxSizing: 'border-box',
        }}
      />
      <div style={dot(549.3, 68.3, HOPF_BLUE, '#23476e')} />
      <div style={{ ...serif, left: 567, top: 58.8 }}>Hopf (H)</div>
      <div style={stroke(90, LC_RED)} />
      <div style={{ ...serif, left: 567, top: 80.5 }}>Unstable LC</div>
      <div style={stroke(111.7, LC_BLUE)} />
      <div style={{ ...serif, left: 567, top: 102.2 }}>Stable LC</div>
      <div style={square(698.7, 68.3, NS_GREEN)} />
      <div style={{ ...serif, left: 712, top: 58.8 }}>Neimark-Sacker (NS)</div>
      <div style={square(698.7, 90, SNLC_GRAY)} />
      <div style={{ ...serif, left: 712, top: 80.5 }}>Saddle-Node of LCs</div>
      <div style={square(698.7, 111.7, PD_PURPLE)} />
      <div style={{ ...serif, left: 712, top: 102.2 }}>Period-Doubling (PD)</div>

      {PANELS.map((p) => (
        <PanelView key={p.id} p={p} />
      ))}
    </div>
  );
}
